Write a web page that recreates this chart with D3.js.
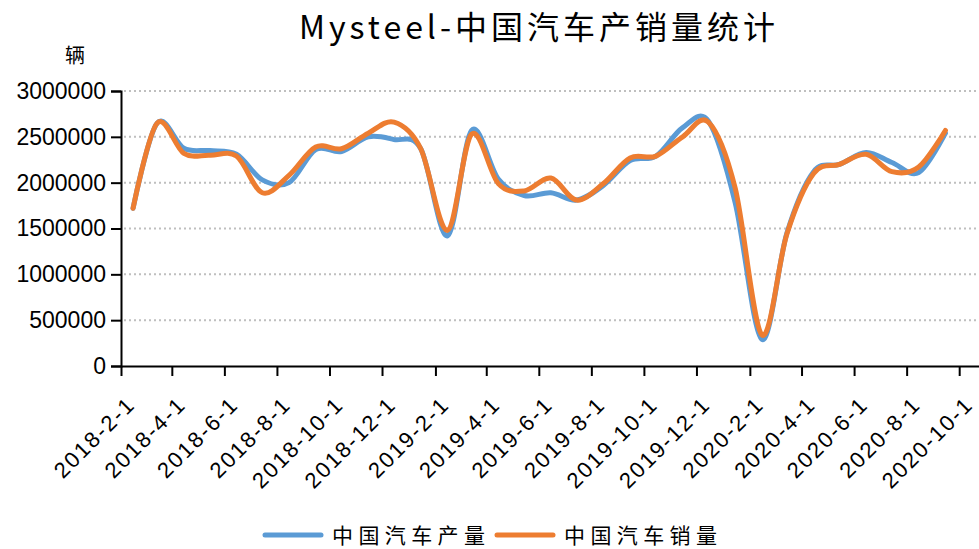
<meta charset="utf-8">
<style>
	body { margin: 0; background: #fff; }
	svg { display: block; }
	.axis text { font-family: "Liberation Sans", Arial, sans-serif; fill: #000; }
</style>
<body>
<svg id="svg"></svg>
<script src="https://cdn.jsdelivr.net/npm/d3@7/dist/d3.min.js"></script>
<script>

// DATA (monthly, in vehicles)
var months = [
	'2018-02', '2018-03', '2018-04', '2018-05', '2018-06', '2018-07', '2018-08', '2018-09', '2018-10', '2018-11', '2018-12',
	'2019-01', '2019-02', '2019-03', '2019-04', '2019-05', '2019-06', '2019-07', '2019-08', '2019-09', '2019-10', '2019-11', '2019-12',
	'2020-01', '2020-02', '2020-03', '2020-04', '2020-05', '2020-06', '2020-07', '2020-08', '2020-09'
]
var production = [
	1720000, 2650000, 2375000, 2350000, 2310000, 2030000, 2000000, 2360000, 2340000, 2500000, 2470000,
	2370000, 1420000, 2570000, 2040000, 1860000, 1890000, 1810000, 1970000, 2240000, 2290000, 2600000, 2670000,
	1780000, 290000, 1450000, 2120000, 2200000, 2330000, 2220000, 2110000, 2540000
]
var sales = [
	1720000, 2650000, 2320000, 2300000, 2290000, 1890000, 2080000, 2390000, 2370000, 2540000, 2660000,
	2370000, 1480000, 2530000, 1990000, 1910000, 2050000, 1810000, 1990000, 2270000, 2290000, 2500000, 2660000,
	1940000, 340000, 1440000, 2100000, 2200000, 2310000, 2120000, 2170000, 2570000
]
var yTicks = [ 0, 500000, 1000000, 1500000, 2000000, 2500000, 3000000 ]
var seriesNames = [ '中国汽车产量', '中国汽车销量' ]
var seriesColors = [ '#5b9bd5', '#ed7d31' ]

// CANVAS
var width = 979
var height = 549

var svg = d3.select( '#svg' )
	.attr( 'width', width )
	.attr( 'height', height )

var parseMonth = d3.timeParse( '%Y-%m' )
var dates = months.map( m => d3.timeDay.offset( parseMonth( m ), 14 ))

// SCALES
var x = d3.scaleTime()
	.domain([ new Date( 2018, 1, 1 ), new Date( 2020, 9, 24 )])
	.range([ 121, 979 ])

var y = d3.scaleLinear()
	.domain([ 0, 3000000 ])
	.range([ 366, 91 ])

// TITLE
svg.append( 'text' )
	.attr( 'x', 539 )
	.attr( 'y', 39 )
	.attr( 'text-anchor', 'middle' )
	.style( 'font-family', '"Noto Sans CJK SC", sans-serif' )
	.style( 'font-size', '32px' )
	.style( 'letter-spacing', '4px' )
	.text( 'Mysteel-中国汽车产销量统计' )

// unit
svg.append( 'text' )
	.attr( 'x', 75 )
	.attr( 'y', 63 )
	.attr( 'text-anchor', 'middle' )
	.style( 'font-family', '"Noto Sans CJK SC", sans-serif' )
	.style( 'font-size', '20px' )
	.text( '辆' )

// GRID
svg.append( 'g' )
	.selectAll( 'line' )
	.data( yTicks.filter( d => d > 0 ))
	.enter()
	.append( 'line' )
		.attr( 'x1', 124 )
		.attr( 'x2', width )
		.attr( 'y1', d => y( d ))
		.attr( 'y2', d => y( d ))
		.attr( 'stroke', '#bfbfbf' )
		.attr( 'stroke-width', 2 )
		.attr( 'stroke-dasharray', '2,3' )

// Y axis
var yAxis = svg.append( 'g' )
	.attr( 'class', 'axis' )
	.attr( 'transform', 'translate(121,0)' )
	.call( d3.axisLeft( y ).tickValues( yTicks ).tickSize( 10 ).tickPadding( 5 ).tickFormat( d3.format( 'd' )))
yAxis.selectAll( 'text' ).style( 'font-size', '23px' )
yAxis.selectAll( 'line, path' ).attr( 'stroke', '#000' ).attr( 'stroke-width', 2 )

// X axis (every 2 months from 2018-2-1)
var xTicks = d3.timeMonth.range( new Date( 2018, 1, 1 ), new Date( 2020, 10, 1 ), 2 )
var xAxis = svg.append( 'g' )
	.attr( 'class', 'axis' )
	.attr( 'transform', 'translate(0,366)' )
	.call( d3.axisBottom( x ).tickValues( xTicks ).tickSize( 10 ).tickSizeOuter( 0 ).tickFormat( d3.timeFormat( '%Y-%-m-%-d' )))
xAxis.selectAll( 'line, path' ).attr( 'stroke', '#000' ).attr( 'stroke-width', 2 )
xAxis.selectAll( 'text' )
	.style( 'font-size', '22px' )
	.style( 'letter-spacing', '2px' )
	.attr( 'text-anchor', 'end' )
	.attr( 'dy', null )
	.attr( 'y', 0 )
	.attr( 'transform', 'translate(15,40) rotate(-45)' )

// LINES
var line = d3.line()
	.x(( d, i ) => x( dates[ i ]))
	.y( d => y( d ))
	.curve( d3.curveCardinal.tension( 0 ))

var series = [ production, sales ]
svg.append( 'g' )
	.selectAll( 'path' )
	.data( series )
	.enter()
	.append( 'path' )
		.attr( 'd', line )
		.attr( 'fill', 'none' )
		.attr( 'stroke', ( d, i ) => seriesColors[ i ])
		.attr( 'stroke-width', 5 )
		.attr( 'stroke-linecap', 'round' )
		.attr( 'stroke-linejoin', 'round' )

// LEGEND
var legendX = [ 265, 497 ]
var legend = svg.append( 'g' )
	.selectAll( 'g' )
	.data( seriesNames )
	.enter()
	.append( 'g' )
		.attr( 'transform', ( d, i ) => 'translate(' + legendX[ i ] + ',535)' )

legend.append( 'line' )
	.attr( 'x1', 0 )
	.attr( 'x2', 56 )
	.attr( 'stroke', ( d, i ) => seriesColors[ i ])
	.attr( 'stroke-width', 5 )
	.attr( 'stroke-linecap', 'round' )

legend.append( 'text' )
	.attr( 'x', 67 )
	.attr( 'y', 8 )
	.attr( 'textLength', 153 )
	.attr( 'lengthAdjust', 'spacing' )
	.style( 'font-family', '"Noto Sans CJK SC", sans-serif' )
	.style( 'font-size', '21px' )
	.text( d => d )

</script>
</body>
